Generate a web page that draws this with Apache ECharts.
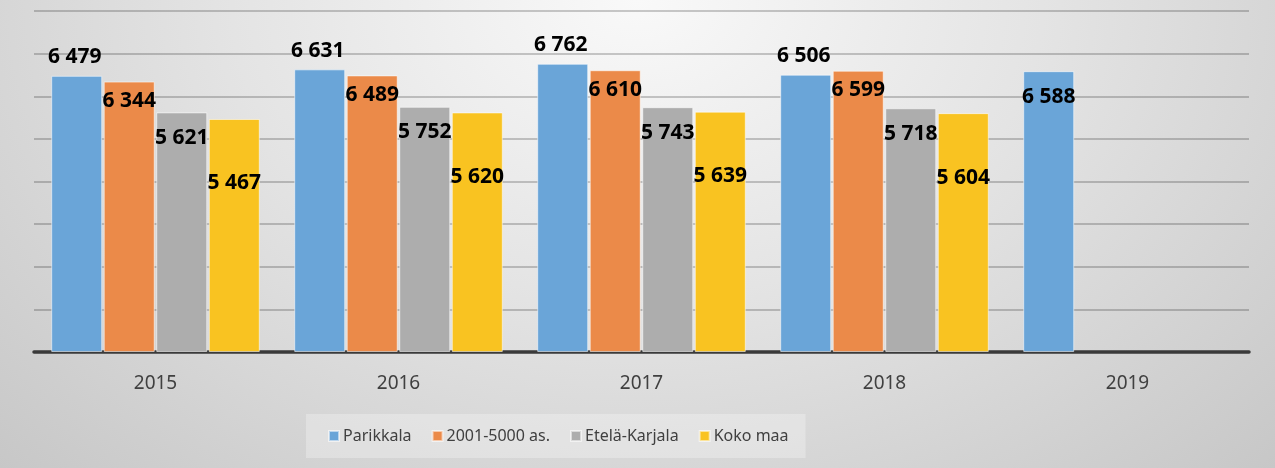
<!DOCTYPE html>
<html>
<head>
<meta charset="utf-8">
<script src="https://cdn.jsdelivr.net/npm/echarts@6/dist/echarts.min.js"></script>
<style>
html,body{margin:0;padding:0;}
#chart{width:1275px;height:468px;background:radial-gradient(ellipse farthest-corner at 50% 0%, #f9f9f9 0%, #e4e4e4 45%, #c7c7c7 100%);}
</style>
</head>
<body>
<div id="chart"></div>
<script>
const categories = ['2015', '2016', '2017', '2018', '2019'];
const seriesNames = ['Parikkala', '2001-5000 as.', 'Etelä-Karjala', 'Koko maa'];
const parikkala = [6479, 6631, 6762, 6506, 6588];
const kunnat2001_5000 = [6344, 6489, 6610, 6599, null];
const etelaKarjala = [5621, 5752, 5743, 5718, null];
const kokoMaa = [5467, 5620, 5639, 5604, null];
const yTicks = { min: 0, max: 8000, interval: 1000 };

const colors = ['#6aa5d8', '#eb8a49', '#adadad', '#f9c321'];
const labelFont = { fontFamily: 'Noto Sans', fontWeight: 'bold', fontSize: 21, color: '#000' };

function fmt(v) {
  const s = String(Math.round(v));
  return s.replace(/\B(?=(\d{3})+(?!\d))/g, ' ');
}

const seriesData = [parikkala, kunnat2001_5000, etelaKarjala, kokoMaa];
const labelCfg = [
  { position: 'top', distance: 5, offset: [-2, -3] },
  { position: 'insideTop', distance: 5, offset: [0, 4] },
  { position: 'insideTop', distance: 5, offset: [0, 10] },
  { position: 'insideTop', distance: 5, offset: [0, 49] }
];

const series = seriesData.map((arr, i) => ({
  name: seriesNames[i],
  type: 'bar',
  barWidth: 51,
  barGap: '3%',
  itemStyle: { color: colors[i], borderColor: 'rgba(255,255,255,0.55)', borderWidth: 1 },
  label: Object.assign({ show: true, formatter: p => fmt(p.value) }, labelCfg[i], labelFont),
  data: arr.map((v, j) => {
    if (v === null) return '-';
    // Parikkala 2019 label sits inside the bar
    if (i === 0 && j === 4) {
      return { value: v, label: { position: 'insideTop', distance: 5, offset: [0, 10] } };
    }
    return v;
  })
}));

const chart = echarts.init(document.getElementById('chart'), null, { renderer: 'canvas' });
chart.setOption({
  backgroundColor: 'transparent',
  animation: false,
  color: colors,
  grid: { left: 34, right: 26, top: 11, bottom: 116, containLabel: false },
  legend: {
    data: seriesNames,
    left: 306,
    top: 414,
    padding: [14, 17, 14, 22],
    backgroundColor: 'rgba(255,255,255,0.28)',
    itemWidth: 10,
    itemHeight: 10,
    itemGap: 20,
    icon: 'rect',
    textStyle: { fontFamily: 'Noto Sans', fontSize: 16, color: '#404040', padding: [0, 0, 0, -1] }
  },
  xAxis: {
    type: 'category',
    data: categories,
    axisLine: { show: true, lineStyle: { color: '#3a3a3a', width: 3.5 } },
    axisTick: { show: false },
    axisLabel: { fontFamily: 'Noto Sans', fontSize: 19, color: '#404040', margin: 22 }
  },
  yAxis: {
    type: 'value',
    min: yTicks.min,
    max: yTicks.max,
    interval: yTicks.interval,
    axisLabel: { show: false },
    axisLine: { show: false },
    axisTick: { show: false },
    splitLine: { show: true, lineStyle: { color: 'rgba(0,0,0,0.2)', width: 2 } }
  },
  series: series
});
</script>
</body>
</html>
